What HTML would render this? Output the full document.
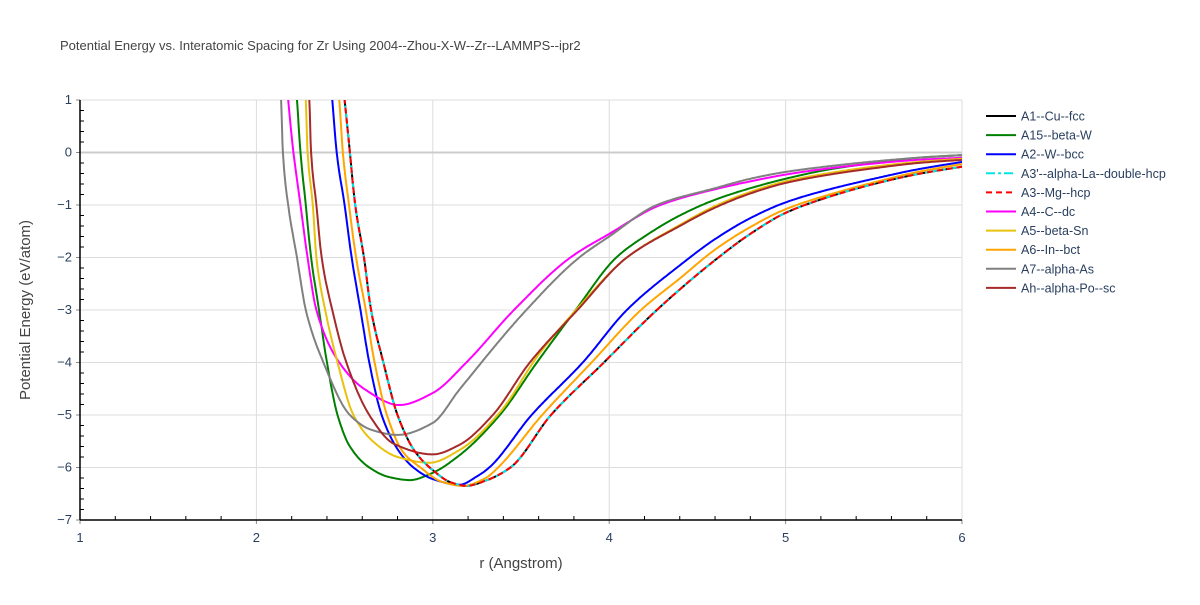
<!DOCTYPE html>
<html><head><meta charset="utf-8"><style>
body{margin:0;background:#fff;font-family:"Liberation Sans",Arial,sans-serif}
svg text{font-family:"Liberation Sans",Arial,sans-serif}
</style></head><body>
<svg id="chart" width="1200" height="600" viewBox="0 0 1200 600" xmlns="http://www.w3.org/2000/svg">
<rect width="1200" height="600" fill="#fff"/>
<defs><clipPath id="plotclip"><rect x="80" y="100" width="882" height="420"/></clipPath></defs>
<text x="60" y="50" font-size="13" fill="#444">Potential Energy vs. Interatomic Spacing for Zr Using 2004--Zhou-X-W--Zr--LAMMPS--ipr2</text>
<g id="grid"></g>
<g id="series" clip-path="url(#plotclip)"></g>
<g id="axes"></g>
<text x="521" y="568" font-size="15" fill="#444" text-anchor="middle">r (Angstrom)</text>
<text x="30" y="310" font-size="15" fill="#444" text-anchor="middle" transform="rotate(-90 30 310)">Potential Energy (eV/atom)</text>
<g id="legend"></g>
</svg>
<script>
const xTicks = [1, 2, 3, 4, 5, 6];
const yTicks = [1, 0, -1, -2, -3, -4, -5, -6, -7];
const seriesNames = ["A1--Cu--fcc","A15--beta-W","A2--W--bcc","A3'--alpha-La--double-hcp","A3--Mg--hcp","A4--C--dc","A5--beta-Sn","A6--In--bct","A7--alpha-As","Ah--alpha-Po--sc"];
const rHcp = [2.47,2.5,2.53,2.56,2.61,2.65,2.72,2.8,2.9,3.0,3.1,3.19,3.3,3.44,3.67,3.97,4.27,4.6,4.8,5.0,5.25,5.5,5.75,6.0];
const eHcp = [1.8,1.0,0,-1,-2,-3,-4,-5,-5.7,-6.05,-6.28,-6.35,-6.25,-6,-5,-4,-3,-2.05,-1.55,-1.15,-0.84,-0.6,-0.41,-0.27];
const rBcc = [2.41,2.43,2.455,2.5,2.54,2.59,2.64,2.71,2.8,2.89,3.0,3.15,3.25,3.32,3.56,3.85,4.1,4.4,4.6,4.8,5.0,5.25,5.5,5.75,6.0];
const eBcc = [1.8,1,0,-1,-2,-3,-4,-5,-5.65,-6,-6.22,-6.33,-6.17,-6,-5,-4,-3,-2.15,-1.65,-1.25,-0.95,-0.7,-0.5,-0.32,-0.18];
const rBct = [2.45,2.47,2.49,2.525,2.565,2.62,2.67,2.74,2.83,2.93,3.05,3.17,3.3,3.37,3.62,3.9,4.18,4.4,4.6,4.8,5.0,5.25,5.5,5.75,6.0];
const eBct = [1.8,1,0,-1,-2,-3,-4,-5,-5.7,-6,-6.27,-6.35,-6.2,-6,-5,-4,-3,-2.4,-1.85,-1.42,-1.08,-0.8,-0.57,-0.37,-0.22];
const rA15 = [2.21,2.23,2.25,2.28,2.31,2.355,2.4,2.46,2.53,2.64,2.75,2.87,3.0,3.15,3.38,3.59,3.81,4.04,4.2,4.4,4.6,4.8,5.0,5.25,5.5,5.75,6.0];
const eA15 = [1.8,1,0,-1,-2,-3,-4,-5,-5.6,-6,-6.18,-6.24,-6.1,-5.77,-5,-4,-3,-2,-1.6,-1.2,-0.9,-0.68,-0.5,-0.32,-0.2,-0.1,-0.05];
const rSn = [2.26,2.28,2.29,2.32,2.34,2.39,2.46,2.55,2.66,2.8,2.98,3.15,3.38,3.6,3.82,4.1,4.4,4.6,4.8,5.0,5.25,5.5,5.75,6.0];
const eSn = [1.8,1,0,-1,-2,-3,-4,-5,-5.5,-5.8,-5.91,-5.67,-4.95,-3.85,-2.97,-2.0,-1.38,-1.02,-0.75,-0.55,-0.39,-0.27,-0.18,-0.12];
const rSc = [2.28,2.3,2.31,2.34,2.37,2.43,2.51,2.64,2.78,3.0,3.15,3.34,3.55,3.82,4.1,4.4,4.6,4.8,5.0,5.25,5.5,5.75,6.0];
const eSc = [1.8,1,0,-1,-2,-3,-4,-5,-5.55,-5.75,-5.57,-5,-4,-3,-2,-1.4,-1.05,-0.78,-0.58,-0.42,-0.3,-0.2,-0.14];
const rDc = [2.16,2.18,2.21,2.25,2.29,2.34,2.47,2.61,2.81,3.0,3.19,3.46,3.78,4.0,4.29,4.6,4.8,5.0,5.25,5.5,5.75,6.0];
const eDc = [1.8,1,0,-1,-2,-3,-4,-4.5,-4.81,-4.58,-4,-3,-2,-1.55,-1,-0.7,-0.55,-0.42,-0.3,-0.21,-0.14,-0.1];
const rAs = [2.12,2.14,2.15,2.18,2.23,2.28,2.38,2.53,2.65,2.8,3.0,3.15,3.53,3.83,4.0,4.27,4.6,4.8,5.0,5.25,5.5,5.75,6.0];
const eAs = [1.8,1,0,-1,-2,-3,-4,-5,-5.28,-5.38,-5.15,-4.52,-3,-2,-1.6,-1,-0.68,-0.5,-0.37,-0.26,-0.17,-0.1,-0.05];

const X0=80, X1=962, Y0=520, Y1=100;
function xs(r){return X0+(r-1)/(6-1)*(X1-X0);}
function ys(e){return Y0-(e+7)/(1+7)*(Y0-Y1);}
const NS="http://www.w3.org/2000/svg";
function mk(tag,attrs,parent){const el=document.createElementNS(NS,tag);for(const k in attrs)el.setAttribute(k,attrs[k]);parent.appendChild(el);return el;}
const grid=document.getElementById('grid'),axes=document.getElementById('axes'),ser=document.getElementById('series'),leg=document.getElementById('legend');

xTicks.forEach(t=>{
  if(t>1){const g=mk('line',{x1:xs(t),x2:xs(t),y1:Y1,y2:Y0,stroke:'#ddd','stroke-width':1},grid);
  
  }
  const tx=mk('text',{x:xs(t),y:Y0+22,'font-size':13,fill:'#2a3f5f','text-anchor':'middle'},axes);
  tx.textContent=t;
  
  
});
yTicks.forEach(t=>{
  const g=mk('line',{x1:X0,x2:X1,y1:ys(t),y2:ys(t),stroke:t===0?'#ccc':'#ddd','stroke-width':t===0?2:1},grid);
  
  
  const tx=mk('text',{x:X0-8,y:ys(t)+4,'font-size':13,fill:'#2a3f5f','text-anchor':'end'},axes);
  tx.textContent=t<0?'\u2212'+(-t):String(t);
  
  
});
for(let i=0;i<=25;i++){const r=1+i*0.2;
  mk('line',{x1:xs(r),x2:xs(r),y1:Y0,y2:Y0-(i%5===0?0:4),stroke:'#000','stroke-width':1},axes);
  if(i%5===0) mk('line',{x1:xs(r),x2:xs(r),y1:Y0,y2:Y0+4,stroke:'#888','stroke-width':1},axes);}
for(let i=0;i<=40;i++){const e=-7+i*0.2;
  mk('line',{x1:X0,x2:X0+(i%5===0?0:4),y1:ys(e),y2:ys(e),stroke:'#000','stroke-width':1},axes);
  if(i%5===0) mk('line',{x1:X0-4,x2:X0,y1:ys(e),y2:ys(e),stroke:'#888','stroke-width':1},axes);}
const ax1=mk('line',{x1:X0,x2:X0,y1:Y1,y2:Y0,stroke:'#000','stroke-width':1.5},axes);


const ax2=mk('line',{x1:X0,x2:X1,y1:Y0,y2:Y0,stroke:'#000','stroke-width':1.5},axes);



// monotone cubic (Fritsch-Carlson) interpolation of E(r), sampled densely
function pathFrom(rs,es){
  const n=rs.length, d=[], m=new Array(n);
  for(let i=0;i<n-1;i++) d.push((es[i+1]-es[i])/(rs[i+1]-rs[i]));
  m[0]=d[0]; m[n-1]=d[n-2];
  for(let i=1;i<n-1;i++){
    if(d[i-1]*d[i]<=0) m[i]=0;
    else{const h0=rs[i]-rs[i-1],h1=rs[i+1]-rs[i],w1=2*h1+h0,w2=h1+2*h0;
      m[i]=(w1+w2)/(w1/d[i-1]+w2/d[i]);}
  }
  let pts=[];
  for(let i=0;i<n-1;i++){
    const h=rs[i+1]-rs[i], steps=Math.max(4,Math.ceil(h*120));
    for(let s=0;s<steps;s++){
      const t=s/steps,t2=t*t,t3=t2*t;
      const e=(2*t3-3*t2+1)*es[i]+(t3-2*t2+t)*h*m[i]+(-2*t3+3*t2)*es[i+1]+(t3-t2)*h*m[i+1];
      pts.push([xs(rs[i]+t*h),ys(e)]);
    }
  }
  pts.push([xs(rs[n-1]),ys(es[n-1])]);
  return 'M'+pts.map(p=>p[0].toFixed(1)+','+p[1].toFixed(1)).join(' L');
}
const styles=[
 {n:0,r:rHcp,e:eHcp,c:'#000',dash:''},
 {n:1,r:rA15,e:eA15,c:'#008000',dash:''},
 {n:2,r:rBcc,e:eBcc,c:'#0000ff',dash:''},
 {n:3,r:rHcp,e:eHcp,c:'#00e5e5',dash:'9,3,3,3'},
 {n:4,r:rHcp,e:eHcp,c:'#ff0000',dash:'6,4'},
 {n:5,r:rDc,e:eDc,c:'#ff00ff',dash:''},
 {n:6,r:rSn,e:eSn,c:'#e8c20c',dash:''},
 {n:7,r:rBct,e:eBct,c:'#ffa500',dash:''},
 {n:8,r:rAs,e:eAs,c:'#808080',dash:''},
 {n:9,r:rSc,e:eSc,c:'#a52a2a',dash:''}];
const drawOrder=[0,1,2,5,6,7,8,9,3,4];
drawOrder.forEach(k=>{const s=styles[k];
  const pth=mk('path',{d:pathFrom(s.r,s.e),fill:'none',stroke:s.c,'stroke-width':2,'stroke-dasharray':s.dash,'stroke-linejoin':'round'},ser);
  
  
});
styles.forEach((s,i)=>{const y=116+i*19.1;
  const g=mk('g',{},leg);
  
  
  mk('line',{x1:986,x2:1016,y1:y,y2:y,stroke:s.c,'stroke-width':2,'stroke-dasharray':s.dash},g);
  const t=mk('text',{x:1021,y:y+4.5,'font-size':12.5,fill:'#2a3f5f'},g);
  t.textContent=seriesNames[i];
});
</script>
</body></html>
